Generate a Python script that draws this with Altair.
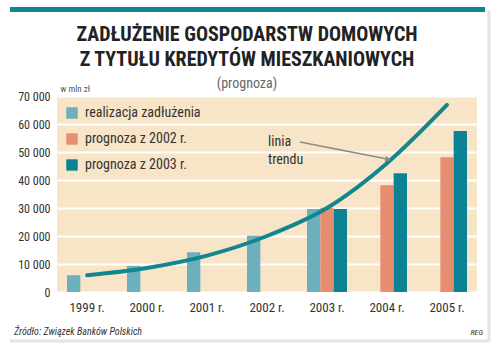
import altair as alt
import pandas as pd

years = ["1999 r.", "2000 r.", "2001 r.", "2002 r.", "2003 r.", "2004 r.", "2005 r."]
series_names = ["realizacja zadłużenia", "prognoza z 2002 r.", "prognoza z 2003 r."]
realizacja = [6000, 9300, 14200, 20100, 29600, None, None]
prognoza_2002 = [None, None, None, None, 30100, 38100, 48100]
prognoza_2003 = [None, None, None, None, 29600, 42400, 57500]
trend = [6000, 8600, 13000, 20000, 30000, 46000, 66800]
y_ticks = [0, 10000, 20000, 30000, 40000, 50000, 60000, 70000]
colors = ["#6cafbd", "#e68d72", "#0b8392"]

rows = []
for name, vals in zip(series_names, [realizacja, prognoza_2002, prognoza_2003]):
    for yr, v in zip(years, vals):
        if v is not None:
            rows.append({"year": yr, "series": name, "value": v})
bars_df = pd.DataFrame(rows)
trend_df = pd.DataFrame({"year": years, "trend": trend})
one = pd.DataFrame({"k": [0]})

FONT = "Liberation Sans Narrow, Roboto Condensed, DejaVu Sans Condensed, Arial Narrow, sans-serif"

xscale = alt.Scale(domain=years, paddingInner=1/3, paddingOuter=1/6)
yscale = alt.Scale(domain=[0, 70000], nice=False)

x_axis = alt.Axis(title=None, domain=False, ticks=False, labelAngle=0,
                  labelPadding=9, labelFontSize=13, labelFont=FONT,
                  labelColor="#333333")
y_axis = alt.Axis(values=y_ticks, domain=False, ticks=False, labelPadding=7,
                  labelOverlap=False, labelBound=False,
                  labelExpr="replace(format(datum.value, ','), ',', ' ')",
                  labelFontSize=12, labelFont=FONT, labelColor="#333333",
                  grid=True, gridColor="#ffffff", gridWidth=2, gridOpacity=1,
                  title="w mln zł", titleAngle=0, titleX=3, titleY=-3,
                  titleAlign="left", titleBaseline="bottom", titleFontSize=9,
                  titleFontWeight="normal", titleColor="#555555", titleFont=FONT)

bars = alt.Chart(bars_df).mark_bar().encode(
    x=alt.X("year:N", scale=xscale, sort=years, axis=x_axis),
    xOffset=alt.XOffset("series:N", scale=alt.Scale(domain=series_names, paddingInner=0, paddingOuter=0)),
    y=alt.Y("value:Q", scale=yscale, axis=y_axis),
    color=alt.Color("series:N", scale=alt.Scale(domain=series_names, range=colors),
                    legend=alt.Legend(title=None, orient="none", legendX=8, legendY=10,
                                      symbolType="square", symbolSize=130,
                                      symbolStrokeWidth=0, symbolOpacity=1,
                                      labelFontSize=14, labelFont=FONT,
                                      labelColor="#333333", rowPadding=12,
                                      labelOffset=6)),
)

line = alt.Chart(trend_df).mark_line(color="#11868f", strokeWidth=4,
                                     interpolate="monotone", strokeCap="round").encode(
    x=alt.X("year:N", scale=xscale, sort=years, axis=x_axis),
    y=alt.Y("trend:Q", scale=yscale, axis=y_axis),
)

label = alt.Chart(one).mark_text(align="left", baseline="top", fontSize=14,
                                 font=FONT, fontWeight="normal", color="#333333",
                                 lineBreak="\n", lineHeight=18).encode(
    x=alt.value(211), y=alt.value(39), text=alt.value("linia\ntrendu"))

arrow = alt.Chart(one).mark_rule(color="#8a8a8a", strokeWidth=1.5).encode(
    x=alt.value(243), x2=alt.value(330), y=alt.value(46), y2=alt.value(63))
arrow_head = alt.Chart(one).mark_point(shape="triangle-right", filled=True,
                                       color="#8a8a8a", size=40, opacity=1,
                                       angle=11).encode(
    x=alt.value(331), y=alt.value(63.5))

top_band = alt.Chart(one).mark_rule(color="#10868f", strokeWidth=5).encode(
    x=alt.value(-47), x2=alt.value(428), y=alt.value(-86.5))
right_edge = alt.Chart(one).mark_rule(color="#e4e4e4", strokeWidth=3).encode(
    x=alt.value(432), y=alt.value(-86), y2=alt.value(245))
bottom_edge = alt.Chart(one).mark_rule(color="#e4e4e4", strokeWidth=3).encode(
    x=alt.value(-47), x2=alt.value(433), y=alt.value(245))

source = alt.Chart(one).mark_text(align="left", baseline="middle", fontSize=10,
                                  font=FONT, fontStyle="italic", fontWeight="normal",
                                  color="#333333").encode(
    x=alt.value(-43), y=alt.value(236), text=alt.value("Źródło: Związek Banków Polskich"))
reg = alt.Chart(one).mark_text(align="right", baseline="middle", fontSize=8,
                               font=FONT, fontStyle="italic", fontWeight="normal",
                               color="#333333").encode(
    x=alt.value(426), y=alt.value(237), text=alt.value("REG"))

chart = alt.layer(
    top_band, right_edge, bottom_edge, bars, line, label, arrow, arrow_head, source, reg
).properties(
    width=420, height=196,
    title=alt.TitleParams(
        text=["ZADŁUŻENIE GOSPODARSTW DOMOWYCH", "Z TYTUŁU KREDYTÓW MIESZKANIOWYCH"],
        subtitle="(prognoza)", font=FONT, fontSize=20, fontWeight="bold",
        color="#222222", lineHeight=25, anchor="middle", frame="group", dx=-20, offset=-84,
        subtitleFont=FONT, subtitleFontSize=14, subtitleColor="#666666",
        subtitlePadding=7),
    autosize=alt.AutoSizeParams(type="none"),
    padding={"left": 57, "top": 96, "right": 23, "bottom": 60},
    background="#ffffff",
).configure_view(fill="#f8e5c8", stroke=None).resolve_scale(x="shared")

chart.save("out.html", embed_options={"renderer": "svg", "actions": False})
